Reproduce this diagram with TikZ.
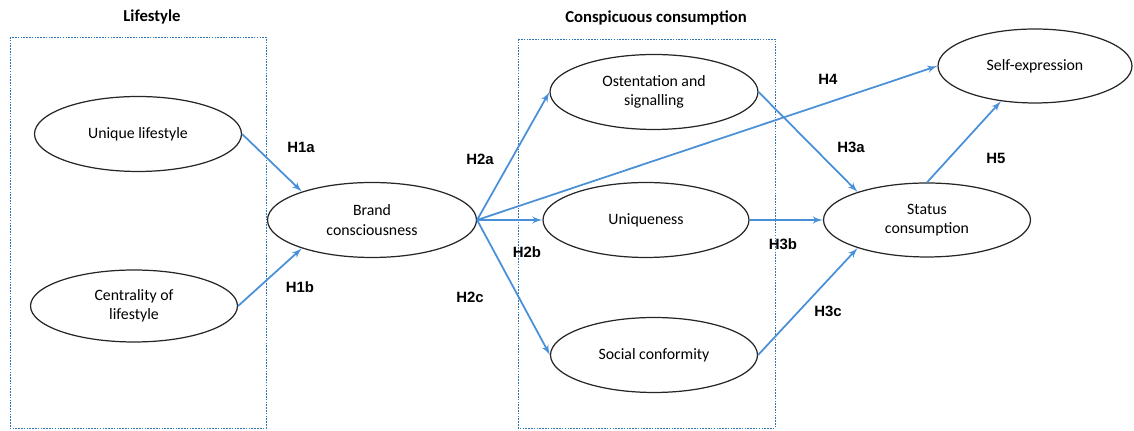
\documentclass[tikz,border=0pt]{standalone}
\usepackage{fontspec}
\usepackage{xcolor}
\setmainfont{Carlito}
\newfontfamily\labelfont{Liberation Sans}
\usetikzlibrary{shapes.geometric, arrows}
\definecolor{arrowblue}{HTML}{4A90D9}
\definecolor{boxblue}{HTML}{2E75B6}
\tikzstyle{every node}=[font=\fontsize{9}{11}\selectfont]
\tikzstyle{construct} = [ellipse, draw=black!85, line width=0.7pt, inner sep=0pt, text centered, align=center]
\tikzstyle{group} = [draw=boxblue, line width=0.5pt, dash pattern=on 0.9pt off 0.7pt]
\tikzstyle{grouptitle} = [font=\fontsize{9.5}{11}\selectfont\bfseries]
\tikzstyle{hyp} = [font=\fontsize{8.5}{10}\selectfont\labelfont\bfseries]
\tikzstyle{line} = [draw, arrowblue, line width=1pt, -latex']

\begin{document}
\begin{tikzpicture}[x=0.02cm, y=-0.02cm]
    \useasboundingbox (0,0) rectangle (1134,431);
    % Groups
    \draw [group] (10,37) rectangle (266,428);
    \draw [group] (518,39) rectangle (775,428);
    \node [grouptitle] (lifestyle) at (152,17) {Lifestyle};
    \node [grouptitle] (conspicuous) at (656,18) {Conspicuous consumption};
    % Place nodes
    \node [construct, minimum width=4.14cm, minimum height=1.5cm] (unique) at (138,134) {Unique lifestyle};
    \node [construct, minimum width=4.14cm, minimum height=1.44cm] (central) at (134,306) {Centrality of\\lifestyle};
    \node [construct, minimum width=4.18cm, minimum height=1.5cm] (brand) at (372,220) {Brand\\consciousness};
    \node [construct, minimum width=4.16cm, minimum height=1.5cm] (ostent) at (654,92) {Ostentation and\\signalling};
    \node [construct, minimum width=4.12cm, minimum height=1.5cm] (uniq) at (646,220) {Uniqueness};
    \node [construct, minimum width=4.14cm, minimum height=1.5cm] (social) at (654,355) {Social conformity};
    \node [construct, minimum width=4.14cm, minimum height=1.48cm] (status) at (927,220) {Status\\consumption};
    \node [construct, minimum width=3.88cm, minimum height=1.48cm] (self) at (1035,66) {Self-expression};
    % Draw edges
    \path [line] (unique.east) -- (brand.158);
    \path [line] (central.east) -- (brand.202);
    \path [line] (brand.east) -- (ostent.west);
    \path [line] (brand.east) -- (uniq.west);
    \path [line] (brand.east) -- (social.west);
    \path [line] (brand.east) -- (self.west);
    \path [line] (ostent.east) -- (status.158);
    \path [line] (uniq.east) -- (status.west);
    \path [line] (social.east) -- (status.202);
    \path [line] (status.north) -- (self.226);
    % Hypotheses
    \node [hyp] (h1a) at (301,147) {H1a};
    \node [hyp] (h1b) at (300,287) {H1b};
    \node [hyp] (h2a) at (480,159) {H2a};
    \node [hyp] (h2b) at (527,252) {H2b};
    \node [hyp] (h2c) at (470,297) {H2c};
    \node [hyp] (h4) at (828,79) {H4};
    \node [hyp] (h3a) at (851,147) {H3a};
    \node [hyp] (h3b) at (783,244) {H3b};
    \node [hyp] (h3c) at (828,311) {H3c};
    \node [hyp] (h5) at (996,158) {H5};
\end{tikzpicture}
\end{document}
